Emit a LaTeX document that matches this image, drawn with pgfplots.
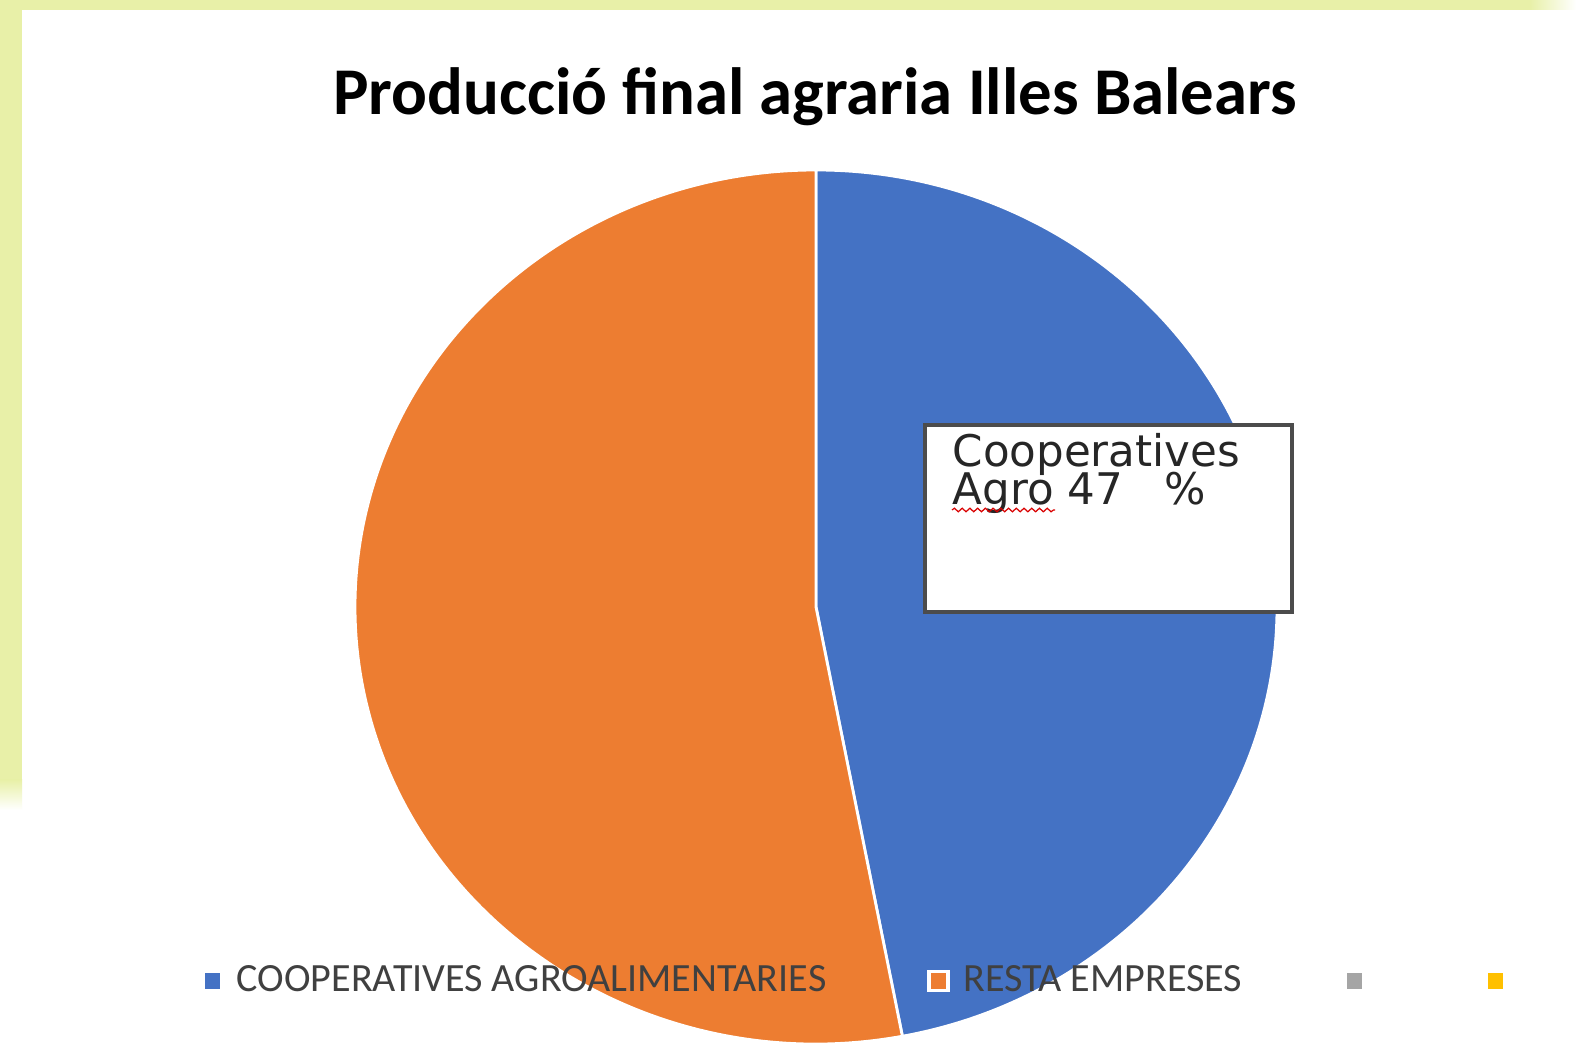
\documentclass[border=0pt]{standalone}
\usepackage{pgfplots}
\pgfplotsset{compat=1.18}
\usepackage{pgfplotstable}
\usepackage{fontspec}
\setmainfont{Carlito}
\newfontfamily\labelfont{DejaVu Sans}
\usetikzlibrary{decorations.pathmorphing}

\definecolor{cblue}{HTML}{4472C4}
\definecolor{corange}{HTML}{ED7D31}
\definecolor{cgray}{HTML}{A5A5A5}
\definecolor{cyellow}{HTML}{FFC000}
\definecolor{bandcol}{RGB}{232,240,168}
\definecolor{legtext}{HTML}{404040}

% share of final agrarian production (%)
\pgfplotstableread{
group share
Cooperatives 47
Resta 53
}\piedata

\begin{document}
\begin{tikzpicture}
\pgfplotstablegetelem{0}{share}\of\piedata
\pgfmathsetmacro{\angA}{90-3.6*\pgfplotsretval}
\pgfplotstablegetelem{1}{share}\of\piedata
\pgfmathsetmacro{\angB}{\angA-3.6*\pgfplotsretval}
\begin{axis}[
  scale only axis, width=15.76cm, height=10.51cm,
  xmin=0, xmax=1576, ymin=0, ymax=1051,
  hide axis, clip=false,
  legend columns=4,
  legend image code/.code={\draw[#1, line width=1.1pt] (0cm,-0.095cm) rectangle (0.19cm,0.095cm);},
  legend style={draw=none, fill=none, inner sep=0pt, outer sep=0pt,
    at={(axis cs:201,70)}, anchor=west,
    font=\fontsize{11.4}{13}\selectfont, text=legtext,
    nodes={inner sep=0pt},
    /tikz/every odd column/.append style={column sep=0.13cm},
    /tikz/every even column/.append style={column sep=1.01cm}},
]
% background and frame bands
\fill[white] (axis cs:0,0) rectangle (axis cs:1576,1051);
\fill[bandcol] (axis cs:0,1041) rectangle (axis cs:1530,1051);
\shade[left color=bandcol, right color=white] (axis cs:1530,1041) rectangle (axis cs:1576,1051);
\fill[bandcol] (axis cs:0,271) rectangle (axis cs:22,1051);
\shade[top color=bandcol, bottom color=white] (axis cs:0,241) rectangle (axis cs:22,271);

% title
\node[anchor=base, font=\bfseries\fontsize{19}{22}\selectfont] at (axis cs:815,936) {Producció final agraria Illes Balears};

% pie (overlay: arc control points must not widen the page)
\fill[overlay, cblue, draw=white, line width=0.8pt] (axis cs:816,444) -- (axis cs:816,881)
  arc[start angle=90, end angle=\angA, x radius=4.61cm, y radius=4.37cm] -- cycle;
\fill[overlay, corange, draw=white, line width=0.8pt] (axis cs:816,444) -- ++(\angA:4.61cm and 4.37cm)
  arc[start angle=\angA, end angle=\angB, x radius=4.61cm, y radius=4.37cm] -- cycle;

% data label box
\draw[fill=white, draw=black!70, line width=0.9pt] (axis cs:925,439) rectangle (axis cs:1292,626);
\node[anchor=base west, inner sep=0pt, font=\labelfont\fontsize{12.4}{11}\selectfont, text=black!85] at (axis cs:952,584) {Cooperatives};
\node[anchor=base west, inner sep=0pt, font=\labelfont\fontsize{12.4}{11}\selectfont, text=black!85] at (axis cs:952,546) {Agro 47\ \ \ \%};
\draw[red!85!black, line width=0.35pt, decorate, decoration={snake, amplitude=0.5pt, segment length=2.2pt}] (axis cs:952,541) -- (axis cs:1055,541);

\addlegendimage{fill=cblue, draw=white}
\addlegendentry{COOPERATIVES AGROALIMENTARIES}
\addlegendimage{fill=corange, draw=white}
\addlegendentry{RESTA EMPRESES}
\addlegendimage{fill=cgray, draw=white}
\addlegendentry{}
\addlegendimage{fill=cyellow, draw=white}
\addlegendentry{}
\end{axis}
\end{tikzpicture}
\end{document}
